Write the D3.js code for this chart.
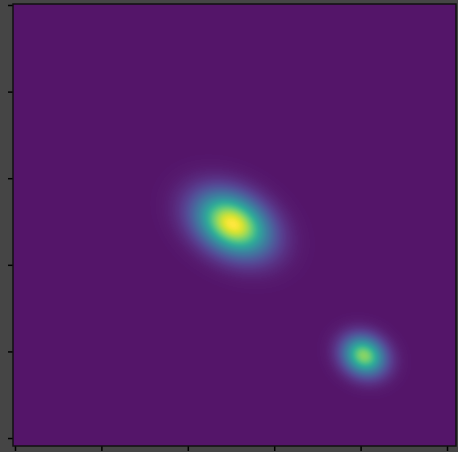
<!DOCTYPE html>
<html>
<head>
<meta charset="utf-8">
<script src="https://cdn.jsdelivr.net/npm/d3@7"></script>
<style>
  body { margin: 0; background: #454545; }
  svg { display: block; }
</style>
</head>
<body>
<svg id="chart"></svg>
<script>
// blob parameters (data units)
const blobX = [2.52, 4.04];
const blobY = [2.53, 4.05];
const blobSigmaMajor = [0.29, 0.165];
const blobSigmaMinor = [0.205, 0.14];
const blobAngle = [30, 30];        // degrees, major axis, y pointing down
const blobPeak = [1.0, 0.78];

const xTicks = [0, 1, 2, 3, 4, 5];
const yTicks = [0, 1, 2, 3, 4, 5];

const W = 458, H = 452;
const margin = {top: 4, right: 2, bottom: 6, left: 13};
const width = W - margin.left - margin.right,
      height = H - margin.top - margin.bottom;

const svg = d3.select("#chart").attr("width", W).attr("height", H);

const x = d3.scaleLinear().domain([-0.023, 5.104]).range([0, width]);
const y = d3.scaleLinear().domain([-0.0115, 5.092]).range([0, height]);

// viridis, lifted a little to match the washed look of the picture
const viridis = d3.scaleSequential(d3.interpolateViridis).domain([0, 1]);
function colour(t) {
  const c = d3.rgb(viridis(Math.pow(t, 0.9)));
  return [c.r * 0.915 + 22, c.g * 0.915 + 20, c.b * 0.915 + 28];
}

function density(px, py) {
  let v = 0;
  for (let i = 0; i < blobX.length; i++) {
    const a = blobAngle[i] * Math.PI / 180;
    const dx = px - blobX[i], dy = py - blobY[i];
    const u = (dx * Math.cos(a) + dy * Math.sin(a)) / blobSigmaMajor[i];
    const w = (-dx * Math.sin(a) + dy * Math.cos(a)) / blobSigmaMinor[i];
    v += blobPeak[i] * Math.exp(-0.5 * (u * u + w * w));
  }
  return Math.min(v, 1);
}

// paint the field into a canvas, one pixel at a time through the scales
const canvas = document.createElement("canvas");
canvas.width = width; canvas.height = height;
const ctx = canvas.getContext("2d");
const img = ctx.createImageData(width, height);
for (let j = 0; j < height; j++) {
  const dy = y.invert(j + 0.5);
  for (let i = 0; i < width; i++) {
    const c = colour(density(x.invert(i + 0.5), dy));
    const k = (j * width + i) * 4;
    img.data[k] = c[0]; img.data[k + 1] = c[1]; img.data[k + 2] = c[2]; img.data[k + 3] = 255;
  }
}
ctx.putImageData(img, 0, 0);

const g = svg.append("g")
  .attr("transform", "translate(" + margin.left + "," + margin.top + ")");

g.append("image")
  .attr("width", width).attr("height", height)
  .attr("href", canvas.toDataURL());

g.append("g")
  .attr("transform", "translate(0," + height + ")")
  .call(d3.axisBottom(x).tickValues(xTicks).tickFormat("").tickSizeOuter(0).tickSize(5))
  .call(a => a.select(".domain").remove())
  .selectAll("line").attr("stroke", "#000").attr("stroke-width", 1.5);

g.append("g")
  .call(d3.axisLeft(y).tickValues(yTicks).tickFormat("").tickSizeOuter(0).tickSize(5))
  .call(a => a.select(".domain").remove())
  .selectAll("line").attr("stroke", "#000").attr("stroke-width", 1.5);

g.append("rect")
  .attr("width", width).attr("height", height)
  .attr("fill", "none").attr("stroke", "#111").attr("stroke-width", 1.5);
</script>
</body>
</html>
